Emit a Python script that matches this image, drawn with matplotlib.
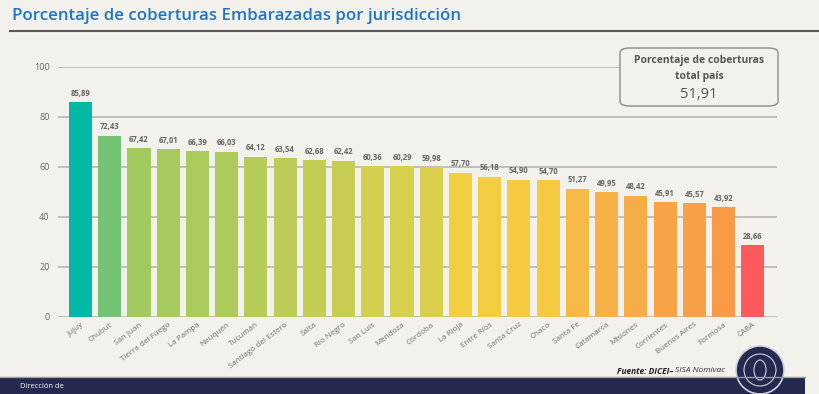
import numpy as np
import matplotlib.pyplot as plt
from matplotlib.patches import FancyBboxPatch, Ellipse, Rectangle

# data
provincias = ['Jujuy', 'Chubut', 'San Juan', 'Tierra del Fuego', 'La Pampa', 'Neuquén',
              'Tucumán', 'Santiago del Estero', 'Salta', 'Río Negro', 'San Luis', 'Mendoza',
              'Córdoba', 'La Rioja', 'Entre Ríos', 'Santa Cruz', 'Chaco', 'Santa Fe',
              'Catamarca', 'Misiones', 'Corrientes', 'Buenos Aires', 'Formosa', 'CABA']
cobertura = [85.89, 72.43, 67.42, 67.01, 66.39, 66.03, 64.12, 63.54, 62.68, 62.42,
             60.36, 60.29, 59.98, 57.70, 56.18, 54.90, 54.70, 51.27, 49.95, 48.42,
             45.91, 45.57, 43.92, 28.66]
total_pais = '51,91'

colores = ['#00b8a6', '#72c474', '#a2c95e', '#a6ca5d', '#a9cb5c', '#adcb5b',
           '#b7cc58', '#bccc56', '#c3cd54', '#c7cd53', '#d5cf4f', '#d7cf4e',
           '#d9cf4d', '#f2cf3f', '#f4cc40', '#f5ca40', '#f5c941', '#f6b945',
           '#f7b146', '#f7ad47', '#f8a348', '#f8a048', '#f99a49', '#fd5b5b']

bg = '#f2f1ec'
gris = '#666666'

fig = plt.figure(figsize=(8.2, 3.94), dpi=100, facecolor=bg)
ax = fig.add_axes([58/820, 1-317/394, (777-58)/820, (317-67)/394])
ax.set_facecolor(bg)

x = np.arange(len(provincias))
ax.bar(x, cobertura, width=0.79, color=colores, zorder=3)
for xi, v in zip(x, cobertura):
    ax.text(xi, v + 1.8, f'{v:.2f}'.replace('.', ','), ha='center', va='bottom',
            fontsize=5.5, color=gris, fontweight='bold', family='Open Sans')

ax.set_xlim(-0.77, len(provincias) - 0.17)
ax.set_ylim(0, 100)
ax.set_yticks([0, 20, 40, 60, 80, 100])
ax.yaxis.grid(True, color='#b5b5b5', lw=1.2, zorder=0)
ax.set_xticks(x)
ax.set_xticklabels(provincias, rotation=37, ha='right', rotation_mode='anchor',
                   fontsize=5.8, color='#707070', family='Open Sans')
ax.tick_params(axis='x', length=0, pad=3)
ax.tick_params(axis='y', length=0, pad=6, labelsize=6.5, labelcolor=gris)
for s in ax.spines.values():
    s.set_visible(False)
for lab in ax.get_yticklabels():
    lab.set_family('Open Sans')

# title
fig.text(12/820, 1-16/394, 'Porcentaje de coberturas Embarazadas por jurisdicción',
         fontsize=12.2, color='#1f74c8', fontweight='semibold', family='Open Sans',
         va='center', ha='left')
fig.add_artist(plt.Line2D([10/820, 1], [1-31/394, 1-31/394], color='#5a5a5a', lw=1.5))

# info box
box = FancyBboxPatch((620/820, 1-106/394), 158/820, 58/394,
                     boxstyle='round,pad=0,rounding_size=0.012', transform=fig.transFigure,
                     facecolor=bg, edgecolor='#8a8a8a', lw=1.0, zorder=5)
fig.add_artist(box)
fig.text(699/820, 1-60/394, 'Porcentaje de coberturas', ha='center', va='center',
         fontsize=7.5, fontweight='bold', color='#555555', family='Open Sans', zorder=6)
fig.text(699/820, 1-77/394, 'total país', ha='center', va='center',
         fontsize=7.5, fontweight='bold', color='#555555', family='Open Sans', zorder=6)
fig.text(699/820, 1-95/394, total_pais, ha='center', va='center',
         fontsize=10.5, color='#555555', family='Open Sans', zorder=6)

# source
t2 = fig.text(725/820, 1-371/394, 'SISA Nomivac', ha='right', va='center', fontsize=6,
              style='italic', color='#333333', family='Open Sans')
fig.canvas.draw()
x0 = t2.get_window_extent().x0
fig.text((x0 - 2) / 820, 1-371/394, 'Fuente: DICEI–', ha='right', va='center', fontsize=6,
         style='italic', fontweight='bold', color='#222222', family='Open Sans')

# footer banner
fig.add_artist(Rectangle((0, 0), 805/820, 17/394, transform=fig.transFigure,
                         facecolor='#25284f', edgecolor='none'))
fig.add_artist(plt.Line2D([0, 805/820], [17/394, 17/394], color='#9a9a9a', lw=1))
fig.text(20/820, 1-386/394, 'Dirección de', fontsize=5.5, color='white',
         va='center', ha='left', family='Open Sans')

# seal
cx, cy = 760/820, 1-370/394
fig.add_artist(Ellipse((cx, cy), 48/820, 48/394, transform=fig.transFigure,
                       facecolor='#25284f', edgecolor='#cfd2dc', lw=1.2))
fig.add_artist(Ellipse((cx, cy), 32/820, 32/394, transform=fig.transFigure,
                       facecolor='none', edgecolor='#cfd2dc', lw=0.8))
fig.add_artist(Ellipse((cx, cy), 12/820, 20/394, transform=fig.transFigure,
                       facecolor='none', edgecolor='#cfd2dc', lw=0.8))

fig.savefig('out.png', dpi=100, facecolor=bg)
